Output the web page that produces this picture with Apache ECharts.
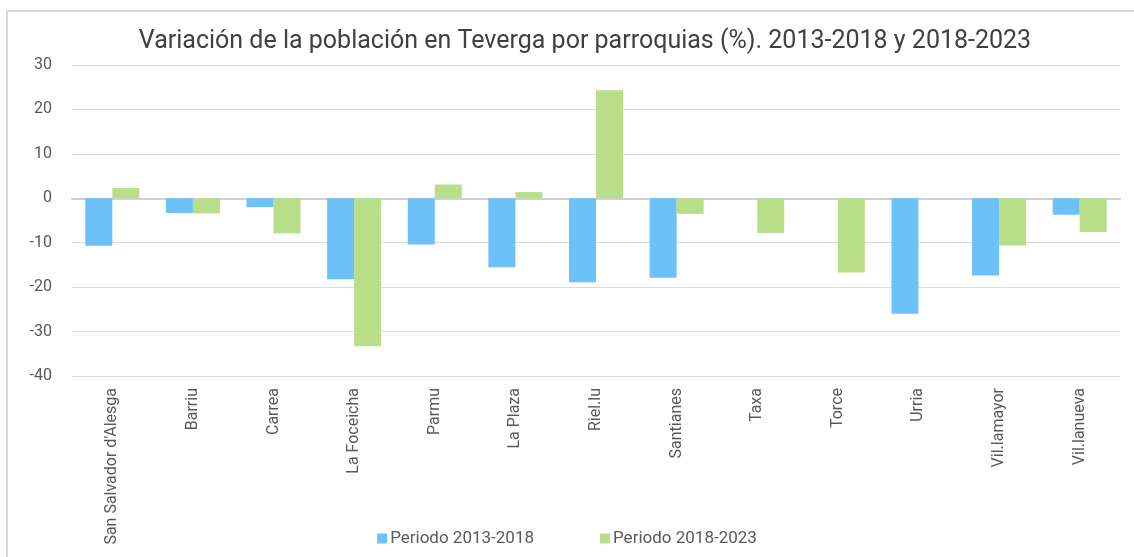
<!DOCTYPE html>
<html lang="es">
  <head>
    <meta charset="UTF-8" />
    <title>Teverga</title>
    <script src="https://cdn.jsdelivr.net/npm/echarts@6/dist/echarts.min.js"></script>
    <style>
      html, body { margin: 0; padding: 0; background: #fff; overflow: hidden; }
      #frame {
        position: absolute; left: 6px; top: 10px; width: 1140px; height: 560px;
        border: 2px solid #d9d9d9; box-sizing: border-box;
      }
      #main { position: absolute; left: 0; top: 0; width: 1134px; height: 557px; }
    </style>
  </head>
  <body>
    <div id="frame"></div>
    <div id="main"></div>
    <script>
      // parroquias
      var parroquias = [
        "San Salvador d'Alesga", "Barriu", "Carrea", "La Foceicha", "Parmu",
        "La Plaza", "Riel.lu", "Santianes", "Taxa", "Torce", "Urria",
        "Vil.lamayor", "Vil.lanueva"
      ];
      var periodo1 = [-10.7, -3.3, -2.0, -18.2, -10.4, -15.5, -18.9, -17.9, 0, 0, -26.0, -17.4, -3.7];
      var periodo2 = [2.3, -3.4, -7.9, -33.3, 3.1, 1.4, 24.3, -3.5, -7.8, -16.7, 0, -10.6, -7.6];
      var nombres = ["Periodo 2013-2018", "Periodo 2018-2023"];

      var font = "'Roboto', sans-serif";
      var chart = echarts.init(document.getElementById("main"));
      chart.setOption({
        animation: false,
        title: {
          text: "Variación de la población en Teverga por parroquias (%). 2013-2018 y 2018-2023",
          left: 580, top: 24, textAlign: "center",
          textStyle: { fontFamily: font, fontSize: 25, fontWeight: "normal", color: "#404040" }
        },
        legend: {
          data: nombres, bottom: 5, left: "center", itemGap: 66,
          itemWidth: 10, itemHeight: 10, icon: "rect",
          textStyle: { fontFamily: font, fontSize: 17, color: "#595959", padding: [0, 0, 0, -2] }
        },
        grid: { left: 72, right: 14, top: 65, bottom: 181, containLabel: false },
        xAxis: [
          {
            type: "category", data: parroquias,
            axisLine: { onZero: false, show: false },
            axisTick: { show: false },
            axisLabel: { rotate: 90, interval: 0, margin: 12, fontFamily: font, fontSize: 16, color: "#595959" }
          },
          {
            type: "category", data: parroquias, position: "bottom",
            axisLine: { onZero: true, lineStyle: { color: "#d0d0d0", width: 2 } },
            axisTick: { show: false }, axisLabel: { show: false }
          }
        ],
        yAxis: {
          type: "value", min: -40, max: 30, interval: 10,
          axisLine: { show: false }, axisTick: { show: false },
          axisLabel: { margin: 20, fontFamily: font, fontSize: 16, color: "#595959" },
          splitLine: { lineStyle: { color: "#dcdcdc", width: 1 } }
        },
        series: [
          {
            name: nombres[0], type: "bar", data: periodo1,
            barGap: "0%", barCategoryGap: "33%",
            itemStyle: { color: "#6bc1f8" }
          },
          {
            name: nombres[1], type: "bar", data: periodo2,
            barGap: "0%", barCategoryGap: "33%",
            itemStyle: { color: "#b8de8a" }
          }
        ]
      });
    </script>
  </body>
</html>
